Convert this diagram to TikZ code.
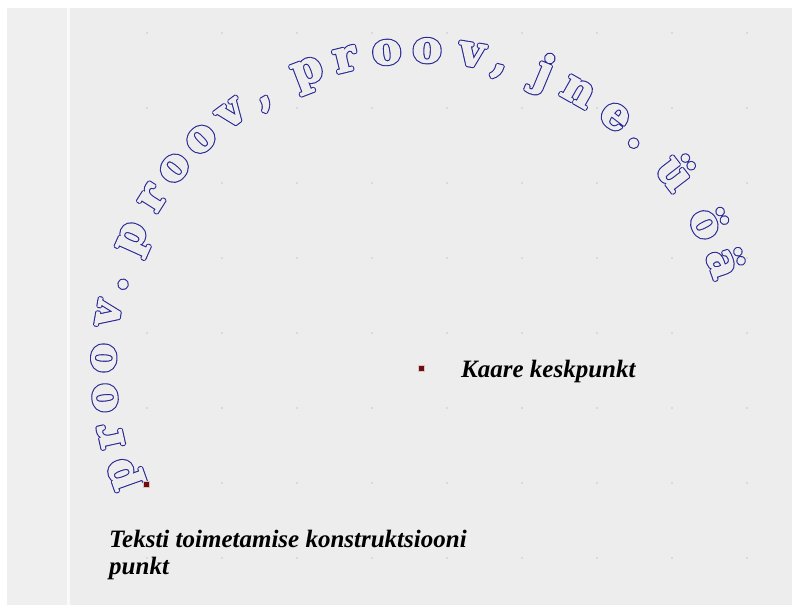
\documentclass[tikz,border=0pt]{standalone}
\usepackage{fontspec}
\setmainfont{Liberation Serif}
\newfontfamily\arcfont{DejaVu Serif}

\definecolor{pagebg}{RGB}{237,237,237}
\definecolor{stripbg}{RGB}{239,239,239}
\definecolor{arcblue}{RGB}{40,40,150}
\definecolor{pointred}{RGB}{110,15,15}

% glyph drawn as a heavy outline: wide blue stroke, then narrower background stroke on top
\newcommand\outlined[1]{%
  \rlap{\textcolor{arcblue}{\special{pdf:literal direct 2 Tr 3.4 w 1 j}#1}}%
  \textcolor{pagebg}{\special{pdf:literal direct 2 Tr 1.2 w 1 j}#1}%
  \special{pdf:literal direct 0 Tr}}

\begin{document}
\begin{tikzpicture}[
    x=1bp, y=1bp,
    griddot/.style={fill=gray!75},
    pointbox/.style={draw=pointred!25, line width=0.6bp, fill=pointred, rectangle, inner sep=0pt, minimum size=6bp},
    arcchar/.style={inner sep=0pt, anchor=base, font=\arcfont\bfseries\fontsize{44bp}{44bp}\selectfont},
    notetext/.style={inner sep=0pt, align=left, font=\bfseries\itshape\fontsize{25bp}{27bp}\selectfont}
]
\useasboundingbox (0,0) rectangle (792,605);
% background
\fill[white] (0,0) rectangle (792,605);
\fill[stripbg] (7,0) rectangle (67,597);
\fill[pagebg] (70,0) rectangle (792,597);
\fill[white!70!stripbg] (67,0) rectangle (70,597);

% grid
\foreach \gx in {0,...,8}
  \foreach \gy in {0,...,7}
    \fill[griddot] (147+75*\gx, 572-75*\gy) circle (0.7);

\coordinate (arccenter) at (421,237);

% text along the arc
\foreach \ch/\ang [count=\i] in {p/199.6, r/192.5, o/185.4, o/178.2, v/170.1, ./164.3,
    p/155.8, r/147.7, o/141.0, o/133.9, v/126.7, {,}/120.3,
    p/111.0, r/103.8, o/96.2, o/88.9, v/80.8, {,}/75.4,
    j/67.4, n/60.4, e/52.3, ./46.6,
    ü/37.5, ö/26.8, ä/19.1}
  \node[arcchar, rotate=\ang-90] (c\i) at ([shift={(\ang:306)}]arccenter) {\outlined{\ch}};

% points
\node[pointbox] (center) at (arccenter) {};
\node[pointbox] (start) at (146,121) {};

% labels
\node[notetext, anchor=base west] (centerlabel) at (461,227) {Kaare keskpunkt};
\node[notetext, anchor=base west] (startlabel) at (109,30) {Teksti toimetamise konstruktsiooni\\punkt};
\end{tikzpicture}
\end{document}
